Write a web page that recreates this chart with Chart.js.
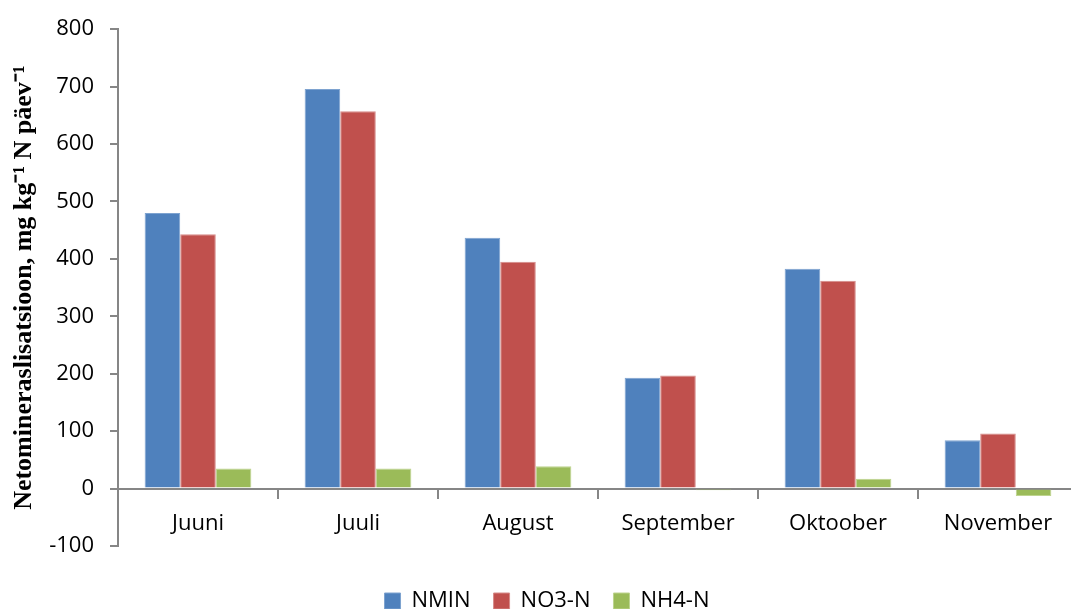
<!DOCTYPE html>
<html>
<head>
<meta charset="utf-8">
<script src="https://cdn.jsdelivr.net/npm/chart.js@4.4.0/dist/chart.umd.min.js"></script>
<style>
  html, body { margin: 0; padding: 0; background: #fff; overflow: hidden; }
  #wrap { width: 1080px; height: 609px; overflow: hidden; }
</style>
</head>
<body>
<div id="wrap"><canvas id="chart" width="1080" height="622"></canvas></div>
<script>
const months = ['Juuni', 'Juuli', 'August', 'September', 'Oktoober', 'November'];
const nmin = [480, 696, 437, 193, 383, 84];
const no3 = [443, 657, 395, 197, 362, 96];
const nh4 = [35, 35, 39, -3, 17, -13];
const yTicks = [-100, 0, 100, 200, 300, 400, 500, 600, 700, 800];

const axisColor = '#868686';
const labelFont = { family: 'Open Sans', size: 22 };

// more gap above the legend, and nudge it a bit to the right
const legendSpacer = {
  id: 'legendSpacer',
  afterInit(chart) {
    const legend = chart.legend;
    const fit = legend.fit.bind(legend);
    const draw = legend.draw.bind(legend);
    legend.fit = function () {
      fit();
      this.height += 21;
    };
    legend.draw = function () {
      const c = this.ctx;
      c.save();
      c.translate(8, 21);
      draw();
      c.restore();
    };
  },
};

const ctx = document.getElementById('chart').getContext('2d');

new Chart(ctx, {
  type: 'bar',
  data: {
    labels: months,
    datasets: [
      { label: 'NMIN', data: nmin, backgroundColor: '#4F81BD', borderColor: '#7EA3D0', borderWidth: 1 },
      { label: 'NO3-N', data: no3, backgroundColor: '#C0504D', borderColor: '#D68B89', borderWidth: 1 },
      { label: 'NH4-N', data: nh4, backgroundColor: '#9BBB59', borderColor: '#BED48F', borderWidth: 1 },
    ],
  },
  options: {
    responsive: false,
    animation: false,
    layout: {
      padding: { top: 18, right: 2, bottom: 0, left: 0 },
    },
    datasets: {
      bar: { categoryPercentage: 0.667, barPercentage: 1.0 },
    },
    plugins: {
      legend: {
        position: 'bottom',
        labels: {
          font: { family: 'Open Sans', size: 22 },
          color: '#000',
          boxWidth: 16,
          boxHeight: 16,
          padding: 23,
        },
      },
      tooltip: { enabled: false },
    },
    scales: {
      x: {
        position: { y: 0 },
        grid: {
          offset: true,
          drawOnChartArea: false,
          tickLength: 9,
          color: axisColor,
          lineWidth: 2,
        },
        border: { color: axisColor, width: 2 },
        ticks: {
          font: labelFont,
          color: '#000',
          padding: 13,
        },
      },
      y: {
        min: -100,
        max: 800,
        afterBuildTicks(scale) {
          scale.ticks = yTicks.map((v) => ({ value: v }));
        },
        afterFit(scale) {
          scale.width = 118;
        },
        grid: {
          drawOnChartArea: false,
          tickLength: 8,
          color: axisColor,
          lineWidth: 2,
        },
        border: { color: axisColor, width: 2 },
        ticks: {
          font: labelFont,
          color: '#000',
          padding: 16,
        },
        title: {
          display: true,
          text: 'Netomineraslisatsioon, mg kg\u207B\u00B9 N päev\u207B\u00B9',
          font: { family: 'Liberation Serif', size: 26, weight: 'bold' },
          color: '#000',
          padding: { top: 9, bottom: 0 },
        },
      },
    },
  },
  plugins: [legendSpacer],
});
</script>
</body>
</html>
